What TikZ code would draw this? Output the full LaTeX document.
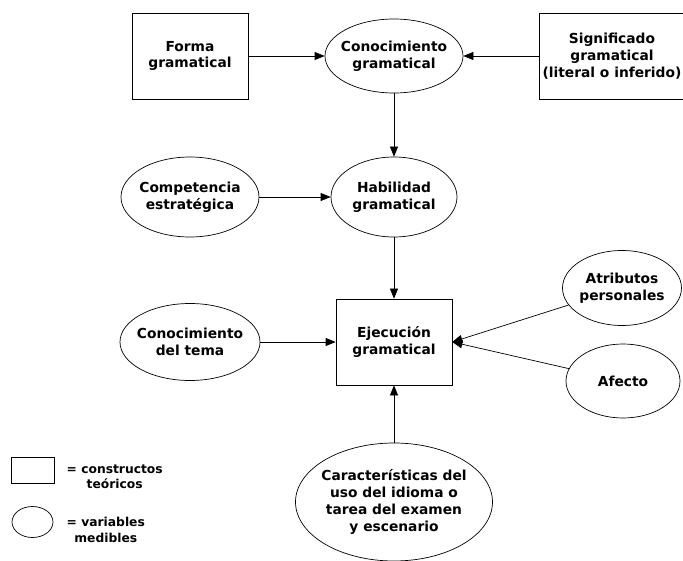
\documentclass[tikz,border=0pt]{standalone}
\usepackage{fontspec}
\setmainfont{DejaVu Sans}
\usetikzlibrary{positioning,matrix,shapes.geometric,arrows.meta}

\begin{document}
\begin{tikzpicture}[x=1pt,y=-1pt,line width=0.7pt,>={Triangle[length=10pt,width=8pt]},
	caja/.style={draw,rectangle,minimum width=116pt,minimum height=86pt,inner sep=0pt,align=center,font=\bfseries\fontsize{13.8}{16.8}\selectfont},
	elipse/.style={draw,ellipse,inner xsep=-6pt,inner ysep=0pt,align=center,font=\bfseries\fontsize{13.8}{16.8}\selectfont},
	leyenda/.style={inner sep=0pt,align=center,font=\bfseries\fontsize{12.3}{15.5}\selectfont}]
\useasboundingbox (0,0) rectangle (683,561);
\matrix [ampersand replacement=\&,matrix anchor=forma.center,column sep=0pt,row sep=0pt] at (190,56) {
	\node [caja] (forma) {Forma\\gramatical}; \&[204pt,between origins]
	\node [elipse,minimum width=138pt,minimum height=74pt] (conocg) {Conocimiento\\gramatical}; \&[226pt,between origins]
	\node [caja,minimum width=146pt,xshift=-8pt] (signif) {Significado\\gramatical\\(literal o inferido)}; \\[141pt,between origins]
	\node [elipse,minimum width=138pt,minimum height=80pt] (compet) {Competencia\\estratégica}; \&
	\node [elipse,minimum width=126pt,minimum height=80pt] (habil) {Habilidad\\gramatical}; \& \\[91pt,between origins]
	\& \& \node [elipse,minimum width=119pt,minimum height=75pt,xshift=2pt] (atrib) {Atributos\\personales}; \\[54pt,between origins]
	\node [elipse,minimum width=140pt,minimum height=77pt] (tema) {Conocimiento\\del tema}; \&
	\node [caja] (ejec) {Ejecución\\gramatical}; \& \\[39pt,between origins]
	\& \& \node [elipse,minimum width=114pt,minimum height=74pt,xshift=3pt] (afecto) {Afecto}; \\[121pt,between origins]
	\& \node [elipse,minimum width=197pt,minimum height=118pt] (caract) {Características del\\uso del idioma o\\tarea del examen\\y escenario}; \& \\
};
% leyenda
\node [caja,minimum width=43pt,minimum height=26pt] (leycaja) at (32.5,470) {};
\node [leyenda,right=12pt of leycaja,yshift=-7pt] (leyconst) {= constructos\\teóricos};
\node [elipse,minimum width=41pt,minimum height=31pt] (leyelip) at (32.5,522) {};
\node [leyenda,right=13pt of leyelip,yshift=-8pt] (leyvar) {= variables\\medibles};
\draw [->] (forma) -- (conocg);
\draw [->] (signif) -- (conocg);
\draw [->] (conocg) -- (habil);
\draw [->] (compet) -- (habil);
\draw [->] (habil) -- (ejec);
\draw [->] (tema) -- (ejec);
\draw [->] (atrib) -- (ejec.east);
\draw [->] (afecto) -- (ejec.east);
\draw [->] (caract) -- (ejec);
\end{tikzpicture}
\end{document}
